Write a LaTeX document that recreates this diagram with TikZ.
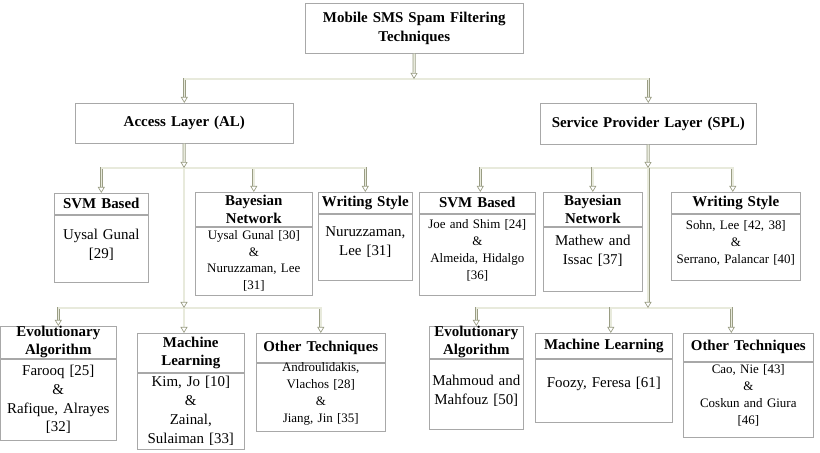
\documentclass[tikz,border=0pt]{standalone}
\usepackage{fontspec}
\setmainfont{Liberation Serif}
\definecolor{edgegray}{HTML}{A8A8A8}
\definecolor{linkolive}{HTML}{9A9D84}
\definecolor{linkfill}{HTML}{E8EADC}
\begin{document}
\begin{tikzpicture}[x=1bp,y=-1bp,every text node part/.style={align=center}]
\usetikzlibrary{positioning}
\usetikzlibrary{arrows.meta}

\tikzstyle{head} = [rectangle,draw=edgegray,line width=0.6pt,inner sep=0,anchor=north west,font=\bfseries\fontsize{15}{18}\selectfont]
\tikzstyle{note} = [rectangle,draw=edgegray,line width=0.6pt,inner sep=0,font=\fontsize{15}{19}\selectfont]
\tikzstyle{small} = [font=\fontsize{13}{17}\selectfont]
\tikzstyle{link} = [draw=linkolive,double=linkfill,double distance=1.6pt,line width=0.7pt,-{Triangle[open,length=6bp,width=7bp]}]
\tikzset{lift/.style={execute at end node={\endgraf\vspace{#1}\hrule height 0pt}}}

\useasboundingbox (0,0) rectangle (820,453);

\node [head, text width=218bp, minimum height=50bp, font=\bfseries\fontsize{15}{19}\selectfont] (title) at (305,3) {Mobile SMS Spam Filtering\\Techniques};

\node [head, text width=218bp, minimum height=40bp] (al) at (75,103) {Access Layer (AL)};
\node [head, text width=216bp, minimum height=41bp] (spl) at (540,103) {Service Provider Layer (SPL)};

% access layer, first row
\node [head, text width=94bp, minimum height=21bp] (svm_al) at (54,193) {SVM Based};
\node [note, lift=7bp, below=0pt of svm_al, text width=94bp, minimum height=67bp] (svm_al_txt) {Uysal Gunal\\{[29]}};

\node [head, text width=117bp, minimum height=34bp] (bay_al) at (195,192) {Bayesian\\Network};
\node [note, small, below=0pt of bay_al, text width=117bp, minimum height=68bp] (bay_al_txt) {Uysal Gunal [30]\\\&\\Nuruzzaman, Lee\\{[31]}};

\node [head, text width=94bp, minimum height=21bp] (ws_al) at (318,192) {Writing Style};
\node [note, lift=10bp, below=0pt of ws_al, text width=94bp, minimum height=66bp] (ws_al_txt) {Nuruzzaman,\\Lee [31]};

% access layer, second row
\node [head, text width=115bp, minimum height=32bp] (evo_al) at (0.5,326) {Evolutionary\\Algorithm};
\node [note, below=0pt of evo_al, text width=115bp, minimum height=81bp] (evo_al_txt) {Farooq [25]\\\&\\Rafique, Alrayes\\{[32]}};

\node [head, text width=107bp, minimum height=39bp] (ml_al) at (137,333) {Machine\\Learning};
\node [note, below=0pt of ml_al, text width=107bp, minimum height=76bp] (ml_al_txt) {Kim, Jo [10]\\\&\\Zainal,\\Sulaiman [33]};

\node [head, text width=129bp, minimum height=29bp] (oth_al) at (256,333) {Other Techniques};
\node [note, small, lift=6bp, below=0pt of oth_al, text width=129bp, minimum height=68bp] (oth_al_txt) {Androulidakis,\\Vlachos [28]\\\&\\Jiang, Jin [35]};

% service provider layer, first row
\node [head, text width=116bp, minimum height=21bp] (svm_spl) at (419,192) {SVM Based};
\node [note, small, lift=8bp, below=0pt of svm_spl, text width=116bp, minimum height=81bp] (svm_spl_txt) {Joe and Shim [24]\\\&\\Almeida, Hidalgo\\{[36]}};

\node [head, text width=99bp, minimum height=34bp] (bay_spl) at (543,192) {Bayesian\\Network};
\node [note, lift=16bp, below=0pt of bay_spl, text width=99bp, minimum height=64bp] (bay_spl_txt) {Mathew and\\Issac [37]};

\node [head, text width=129bp, minimum height=21bp] (ws_spl) at (671,192) {Writing Style};
\node [note, small, lift=8bp, below=0pt of ws_spl, text width=129bp, minimum height=66bp] (ws_spl_txt) {Sohn, Lee [42, 38]\\\&\\Serrano, Palancar [40]};

% service provider layer, second row
\node [head, text width=94bp, minimum height=32bp] (evo_spl) at (429,326) {Evolutionary\\Algorithm};
\node [note, lift=6bp, below=0pt of evo_spl, text width=94bp, minimum height=70bp] (evo_spl_txt) {Mahmoud and\\Mahfouz [50]};

\node [head, text width=137bp, minimum height=25bp] (ml_spl) at (535,333) {Machine Learning};
\node [note, lift=13bp, below=0pt of ml_spl, text width=137bp, minimum height=63bp] (ml_spl_txt) {Foozy, Feresa [61]};

\node [head, text width=130bp, minimum height=28bp] (oth_spl) at (683,333) {Other Techniques};
\node [note, small, lift=8bp, below=0pt of oth_spl, text width=130bp, minimum height=75bp] (oth_spl_txt) {Cao, Nie [43]\\\&\\Coskun and Giura\\{[46]}};

\coordinate (root_fork) at (414,79);
\coordinate (al_fork) at (184,168);
\coordinate (al_fork_low) at (184,308);
\coordinate (spl_fork) at (648,168);
\coordinate (spl_fork_low) at (648,308);

\path[link] (root_fork) -| (al);
\path[link] (root_fork) -| (spl);
\path[link] (title) -- (root_fork);

\path[link] (al_fork) -| (svm_al);
\path[link] (al_fork) -| (bay_al);
\path[link] (al_fork) -| (ws_al);
\path[link] (al_fork_low) -| (evo_al);
\path[link] (al_fork_low) -| (oth_al);
\path[link] (al_fork_low) -- (al_fork_low |- ml_al.north);
\path[link] (al) -- (al_fork);
\path[link] (al_fork) -- (al_fork_low);

\path[link] (spl_fork) -| ([xshift=3bp]svm_spl.north);
\path[link] (spl_fork) -| (bay_spl);
\path[link] (spl_fork) -| ([xshift=-3bp]ws_spl.north);
\path[link] (spl_fork_low) -| (evo_spl);
\path[link] (spl_fork_low) -| ([xshift=7bp]ml_spl.north);
\path[link] (spl_fork_low) -| ([xshift=-17bp]oth_spl.north);
\path[link] (spl) -- (spl_fork);
\path[link] (spl_fork) -- (spl_fork_low);
\end{tikzpicture}
\end{document}
